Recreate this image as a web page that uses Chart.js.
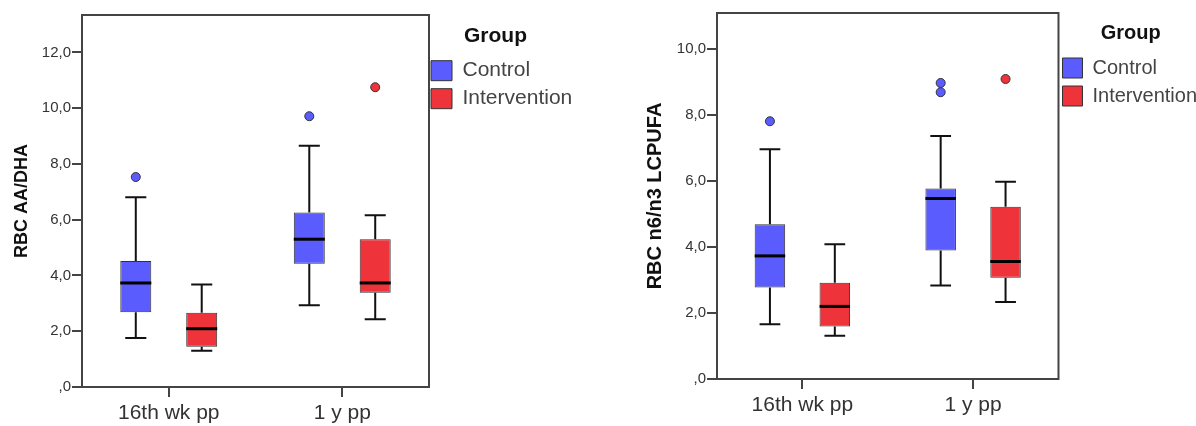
<!DOCTYPE html>
<html>
<head>
<meta charset="utf-8">
<title>RBC fatty acid ratios by group</title>
<script src="https://cdn.jsdelivr.net/npm/chart.js@4.4.1/dist/chart.umd.min.js"></script>
<style>
  html, body { margin: 0; padding: 0; background: #fff; overflow: hidden; width: 1196px; height: 426px; }
  canvas { position: absolute; top: 0; }
  #aaChart { left: 0; }
  #n6Chart { left: 600px; }
</style>
</head>
<body>
<canvas id="aaChart" width="572" height="426"></canvas>
<canvas id="n6Chart" width="611" height="426"></canvas>
<script>
const timepoints = ["16th wk pp", "1 y pp"];
const groups = ["Control", "Intervention"];

// per timepoint: [lower whisker, Q1, median, Q3, upper whisker]
const aaDhaControl = [[1.76, 2.68, 3.73, 4.52, 6.80], [2.93, 4.42, 5.30, 6.26, 8.65]];
const aaDhaIntervention = [[1.30, 1.44, 2.09, 2.66, 3.68], [2.43, 3.38, 3.73, 5.30, 6.16]];
const aaDhaControlOutliers = [[7.53], [9.71]];
const aaDhaInterventionOutliers = [[], [10.75]];

const n6n3Control = [[1.66, 2.77, 3.73, 4.69, 6.96], [2.83, 3.89, 5.47, 5.77, 7.36]];
const n6n3Intervention = [[1.31, 1.59, 2.20, 2.92, 4.08], [2.33, 3.07, 3.56, 5.22, 5.98]];
const n6n3ControlOutliers = [[7.81], [8.69, 8.97]];
const n6n3InterventionOutliers = [[], [9.09]];

const aaDhaTicks = [",0", "2,0", "4,0", "6,0", "8,0", "10,0", "12,0"];
const n6n3Ticks = [",0", "2,0", "4,0", "6,0", "8,0", "10,0"];

const controlColor = "#5a5cfd";
const interventionColor = "#ef333a";

Chart.defaults.font.family = '"Liberation Sans", Arial, sans-serif';

// whiskers behind the boxes, medians and outliers on top
const boxWhiskers = {
  id: "boxWhiskers",
  beforeDatasetsDraw(chart) {
    const ctx = chart.ctx;
    const y = chart.scales.y;
    ctx.save();
    ctx.strokeStyle = "#111";
    ctx.lineWidth = 2;
    chart.data.datasets.forEach((ds, i) => {
      chart.getDatasetMeta(i).data.forEach((bar, j) => {
        const s = ds.summary[j];
        const cap = bar.width * 0.34;
        const lo = y.getPixelForValue(s[0]), hi = y.getPixelForValue(s[4]);
        ctx.beginPath();
        ctx.moveTo(bar.x, y.getPixelForValue(s[3]));
        ctx.lineTo(bar.x, hi);
        ctx.moveTo(bar.x - cap, hi);
        ctx.lineTo(bar.x + cap, hi);
        ctx.moveTo(bar.x, y.getPixelForValue(s[1]));
        ctx.lineTo(bar.x, lo);
        ctx.moveTo(bar.x - cap, lo);
        ctx.lineTo(bar.x + cap, lo);
        ctx.stroke();
      });
    });
    ctx.restore();
  },
  afterDatasetsDraw(chart) {
    const ctx = chart.ctx;
    const y = chart.scales.y;
    ctx.save();
    chart.data.datasets.forEach((ds, i) => {
      chart.getDatasetMeta(i).data.forEach((bar, j) => {
        const med = y.getPixelForValue(ds.summary[j][2]);
        ctx.strokeStyle = "#000";
        ctx.lineWidth = 3;
        ctx.beginPath();
        ctx.moveTo(bar.x - bar.width / 2, med);
        ctx.lineTo(bar.x + bar.width / 2, med);
        ctx.stroke();
        ds.outliers[j].forEach(v => {
          ctx.beginPath();
          ctx.arc(bar.x, y.getPixelForValue(v), 4.5, 0, Math.PI * 2);
          ctx.fillStyle = ds.backgroundColor;
          ctx.fill();
          ctx.lineWidth = 1;
          ctx.strokeStyle = "#333";
          ctx.stroke();
        });
      });
    });
    ctx.restore();
  }
};

// closed frame round the plot area
const plotFrame = {
  id: "plotFrame",
  afterDraw(chart) {
    const {ctx, chartArea: a} = chart;
    ctx.save();
    ctx.strokeStyle = "#444";
    ctx.lineWidth = 2;
    ctx.strokeRect(a.left, a.top, a.right - a.left, a.bottom - a.top);
    ctx.restore();
  }
};

// pull the legend a little closer to the frame (right edge kept so labels aren't clipped)
const legendNudge = {
  id: "legendNudge",
  afterLayout(chart, args, options) {
    chart.legend.left += options.dx;
  }
};

function boxChart(id, o) {
  return new Chart(document.getElementById(id), {
    type: "bar",
    data: {
      labels: timepoints,
      datasets: [
        {
          label: groups[0],
          data: o.control.map(s => [s[1], s[3]]),
          summary: o.control,
          outliers: o.controlOutliers,
          backgroundColor: controlColor
        },
        {
          label: groups[1],
          data: o.intervention.map(s => [s[1], s[3]]),
          summary: o.intervention,
          outliers: o.interventionOutliers,
          backgroundColor: interventionColor
        }
      ].map(ds => Object.assign(ds, {
        borderColor: "#333",
        borderWidth: 1,
        borderSkipped: false,
        categoryPercentage: 0.76,
        barPercentage: 0.47
      }))
    },
    options: {
      responsive: false,
      animation: false,
      layout: { padding: { top: o.top, left: 0, right: 0, bottom: 0 } },
      plugins: {
        tooltip: { enabled: false },
        legendNudge: { dx: o.legendShift },
        legend: {
          position: "right",
          align: "start",
          title: {
            display: true,
            text: "Group",
            color: "#111",
            font: { size: o.legendSize, weight: "bold" },
            padding: { top: o.legendTitlePad[0], bottom: o.legendTitlePad[1] }
          },
          labels: {
            boxWidth: o.legendSize,
            boxHeight: 20,
            padding: o.legendPad,
            color: "#444",
            font: { size: o.legendSize }
          }
        }
      },
      scales: {
        x: {
          grid: { drawOnChartArea: false, offset: false, tickLength: 10, color: "#444", lineWidth: 2 },
          border: { display: false },
          ticks: { color: "#333", font: { size: 21 }, padding: 4, maxRotation: 0 },
          afterFit(scale) {
            scale.height = o.xAxisHeight;
            scale.paddingLeft = 0;
            scale.paddingRight = 0;
          }
        },
        y: {
          min: 0,
          max: o.max,
          grid: { drawOnChartArea: false, tickLength: 10, color: "#444", lineWidth: 2 },
          border: { display: false },
          ticks: {
            stepSize: 2,
            includeBounds: false,
            color: "#333",
            font: { size: 15 },
            padding: 1,
            callback: v => o.tickLabels[Math.round(v / 2)]
          },
          title: {
            display: true,
            text: o.title,
            color: "#111",
            font: { size: o.titleSize, weight: "bold" },
            padding: { top: o.titlePad, bottom: 0 }
          },
          afterFit(scale) {
            scale.width = o.yAxisWidth;
            scale.paddingTop = 0;
            scale.paddingBottom = 0;
          }
        }
      }
    },
    plugins: [boxWhiskers, plotFrame, legendNudge]
  });
}

boxChart("aaChart", {
  control: aaDhaControl,
  intervention: aaDhaIntervention,
  controlOutliers: aaDhaControlOutliers,
  interventionOutliers: aaDhaInterventionOutliers,
  tickLabels: aaDhaTicks,
  max: 13.34,
  title: "RBC AA/DHA",
  titleSize: 18,
  titlePad: 11,
  yAxisWidth: 82,
  xAxisHeight: 39,
  top: 15,
  legendSize: 21,
  legendPad: 7,
  legendTitlePad: [11, 2],
  legendShift: -5
});

boxChart("n6Chart", {
  control: n6n3Control,
  intervention: n6n3Intervention,
  controlOutliers: n6n3ControlOutliers,
  interventionOutliers: n6n3InterventionOutliers,
  tickLabels: n6n3Ticks,
  max: 11.09,
  title: "RBC n6/n3 LCPUFA",
  titleSize: 20,
  titlePad: 43,
  yAxisWidth: 117,
  xAxisHeight: 47,
  top: 13,
  legendSize: 20,
  legendPad: 8,
  legendTitlePad: [10, 3],
  legendShift: -4
});
</script>
</body>
</html>
